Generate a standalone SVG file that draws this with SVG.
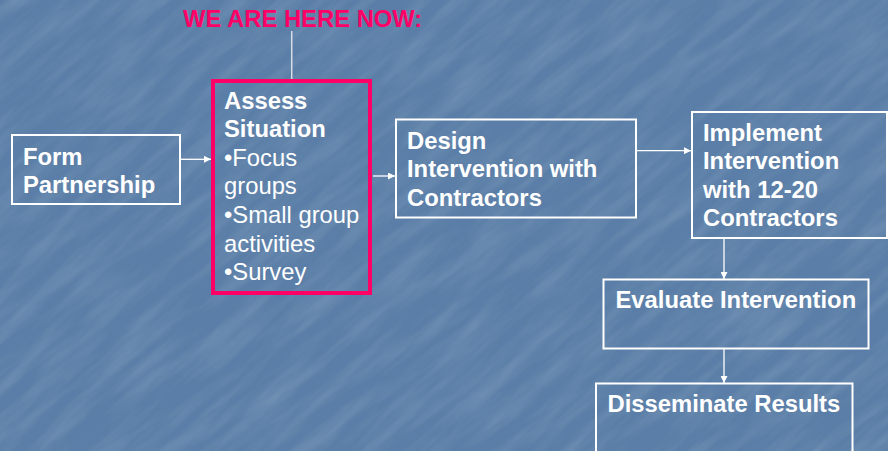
<svg xmlns="http://www.w3.org/2000/svg" width="888" height="451" viewBox="0 0 888 451">
<defs>
<style>
.box{fill:none;stroke:#ffffff;stroke-width:2}
.hl{fill:none;stroke:#ff0066;stroke-width:4}
.t{font-family:"Liberation Sans",Arial,sans-serif;font-size:23.8px;fill:#ffffff}
.b{font-weight:bold}
.c{stroke:#ffffff;stroke-width:1.3;fill:none;marker-end:url(#ah)}
</style>
<marker id="ah" viewBox="0 0 10 10" refX="10" refY="5" markerWidth="7" markerHeight="7" markerUnits="userSpaceOnUse" orient="auto">
<path d="M0,0 L10,5 L0,10 z" fill="#ffffff"/>
</marker>
<filter id="tex" x="0" y="0" width="100%" height="100%">
<feTurbulence type="fractalNoise" baseFrequency="0.012 0.07" numOctaves="4" seed="11" result="n"/>
<feColorMatrix in="n" type="matrix" values="0 0 0 0 1  0 0 0 0 1  0 0 0 0 1  0.7 0 0 0 -0.25"/>
</filter>
</defs>
<rect width="888" height="451" fill="#5a7ea7"/>
<g transform="rotate(-40 444 225)" opacity="0.32">
<rect x="-300" y="-400" width="1500" height="1250" filter="url(#tex)"/>
</g>
<g id="connectors">
<line x1="291.7" y1="31" x2="291.7" y2="79" stroke="#d8dde6" stroke-width="1.5"/>
<line class="c" x1="181" y1="159.3" x2="211" y2="159.3"/>
<line class="c" x1="373" y1="176" x2="395" y2="176"/>
<line class="c" x1="637" y1="150.7" x2="691" y2="150.7"/>
<line class="c" x1="724" y1="239" x2="724" y2="279"/>
<line class="c" x1="724" y1="349" x2="724" y2="383"/>
</g>
<g id="label-here">
<text class="t b" x="183" y="27" style="fill:#ff0066">WE ARE HERE NOW:</text>
</g>
<g id="form">
<rect class="box" x="12" y="135" width="168" height="69"/>
<text class="t b" x="23" y="165">Form</text>
<text class="t b" x="23" y="193">Partnership</text>
</g>
<g id="assess">
<rect class="hl" x="213" y="81" width="157" height="212"/>
<text class="t b" x="224" y="109">Assess</text>
<text class="t b" x="224" y="137">Situation</text>
<text class="t" x="224" y="166">•Focus</text>
<text class="t" x="224" y="194">groups</text>
<text class="t" x="224" y="223">•Small group</text>
<text class="t" x="224" y="252">activities</text>
<text class="t" x="224" y="280">•Survey</text>
</g>
<g id="design">
<rect class="box" x="396" y="119.5" width="240" height="98"/>
<text class="t b" x="407" y="149">Design</text>
<text class="t b" x="407" y="177">Intervention with</text>
<text class="t b" x="407" y="205.5">Contractors</text>
</g>
<g id="implement">
<rect class="box" x="692" y="112" width="195" height="126"/>
<text class="t b" x="703" y="141">Implement</text>
<text class="t b" x="703" y="169">Intervention</text>
<text class="t b" x="703" y="198">with 12-20</text>
<text class="t b" x="703" y="226">Contractors</text>
</g>
<g id="evaluate">
<rect class="box" x="603.5" y="279.5" width="265" height="69"/>
<text class="t b" x="615.5" y="308">Evaluate Intervention</text>
</g>
<g id="disseminate">
<rect class="box" x="596" y="383.5" width="256.5" height="75"/>
<text class="t b" x="607.5" y="411.5">Disseminate Results</text>
</g>
</svg>
